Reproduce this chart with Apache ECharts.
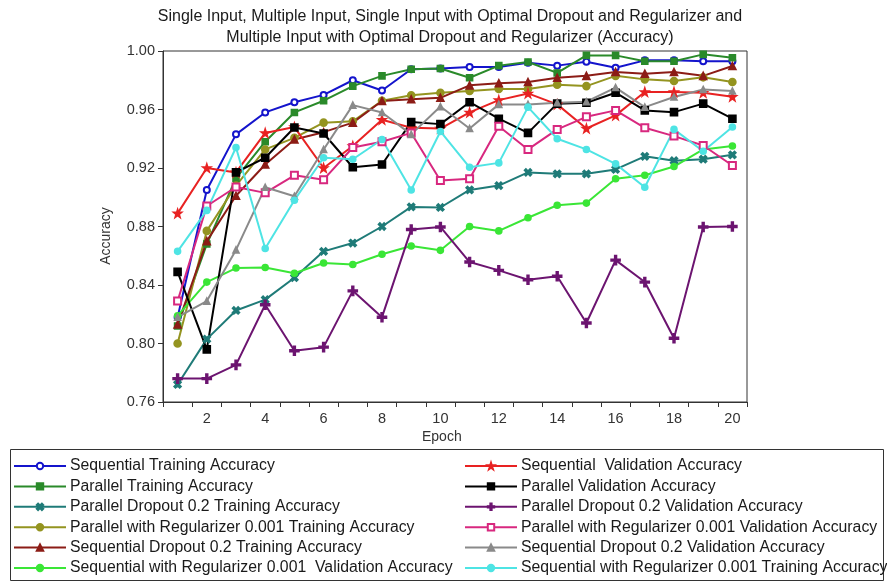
<!DOCTYPE html>
<html>
<head>
<meta charset="utf-8">
<script src="https://cdn.jsdelivr.net/npm/echarts@6/dist/echarts.min.js"></script>
<style>
  html, body { margin: 0; padding: 0; background: #fff; }
  #chart { width: 887px; height: 582px; }
</style>
</head>
<body>
<div id="chart"></div>
<script>
// Epochs on the x axis
const epochs = [1, 2, 3, 4, 5, 6, 7, 8, 9, 10, 11, 12, 13, 14, 15, 16, 17, 18, 19, 20];
const yTicks = { min: 0.76, max: 1.00, step: 0.04 };

// Accuracy per epoch for each model run
const seqTrain     = [0.818, 0.905, 0.943, 0.958, 0.965, 0.970, 0.980, 0.973, 0.9875, 0.988, 0.989, 0.989, 0.992, 0.990, 0.9927, 0.9886, 0.9936, 0.9936, 0.993, 0.993];
const seqVal       = [0.889, 0.920, 0.917, 0.944, 0.948, 0.920, 0.935, 0.953, 0.9475, 0.947, 0.958, 0.9664, 0.971, 0.9635, 0.947, 0.956, 0.972, 0.972, 0.9715, 0.9687];
const parTrain     = [0.812, 0.868, 0.913, 0.938, 0.958, 0.966, 0.976, 0.983, 0.9875, 0.988, 0.9817, 0.990, 0.9925, 0.985, 0.997, 0.997, 0.993, 0.993, 0.9977, 0.9954];
const parVal       = [0.849, 0.796, 0.917, 0.927, 0.9477, 0.9436, 0.9205, 0.9224, 0.9514, 0.950, 0.965, 0.9537, 0.944, 0.964, 0.9646, 0.9715, 0.9594, 0.9582, 0.964, 0.9537];
const parDropTrain = [0.772, 0.803, 0.8226, 0.830, 0.845, 0.863, 0.8687, 0.880, 0.8934, 0.893, 0.905, 0.908, 0.917, 0.916, 0.916, 0.919, 0.928, 0.925, 0.926, 0.929];
const parDropVal   = [0.776, 0.776, 0.7854, 0.8265, 0.795, 0.7975, 0.836, 0.818, 0.878, 0.8797, 0.8557, 0.850, 0.8436, 0.846, 0.814, 0.857, 0.842, 0.8036, 0.8797, 0.880];
const parRegTrain  = [0.800, 0.877, 0.908, 0.9327, 0.9406, 0.951, 0.952, 0.966, 0.9697, 0.9715, 0.9726, 0.974, 0.974, 0.977, 0.976, 0.983, 0.9806, 0.9795, 0.982, 0.9788];
const parRegVal    = [0.829, 0.894, 0.907, 0.903, 0.915, 0.912, 0.934, 0.938, 0.944, 0.9114, 0.9126, 0.9486, 0.9327, 0.9464, 0.955, 0.9594, 0.9475, 0.9418, 0.9354, 0.9217];
const seqDropTrain = [0.813, 0.870, 0.901, 0.9224, 0.9395, 0.9445, 0.951, 0.9658, 0.967, 0.968, 0.9765, 0.978, 0.9788, 0.9817, 0.983, 0.9856, 0.9845, 0.9856, 0.983, 0.9897];
const seqDropVal   = [0.818, 0.829, 0.864, 0.9068, 0.9007, 0.9327, 0.963, 0.958, 0.943, 0.962, 0.947, 0.9635, 0.9635, 0.9646, 0.9653, 0.975, 0.9616, 0.9685, 0.9737, 0.9726];
const seqRegVal    = [0.819, 0.842, 0.8516, 0.852, 0.848, 0.855, 0.854, 0.861, 0.8667, 0.8637, 0.880, 0.877, 0.886, 0.8945, 0.896, 0.9126, 0.915, 0.921, 0.9327, 0.935];
const seqRegTrain  = [0.863, 0.891, 0.934, 0.865, 0.898, 0.927, 0.926, 0.9395, 0.905, 0.945, 0.9205, 0.9235, 0.9616, 0.940, 0.9327, 0.9228, 0.9068, 0.9464, 0.9315, 0.948];

// Marker shapes
const CROSS = 'path://M0,2 L2,0 L5,3 L8,0 L10,2 L7,5 L10,8 L8,10 L5,7 L2,10 L0,8 L3,5 Z';
const PLUS  = 'path://M4,0 H6 V4 H10 V6 H6 V10 H4 V6 H0 V4 H4 Z';
const STAR  = 'path://M5,0 L6.2,3.6 L10,3.6 L7,5.9 L8.1,9.5 L5,7.3 L1.9,9.5 L3,5.9 L0,3.6 L3.8,3.6 Z';

const runs = [
  { name: 'Sequential Training Accuracy', data: seqTrain, color: '#1414cc', symbol: 'emptyCircle', size: 6 },
  { name: 'Parallel Training Accuracy', data: parTrain, color: '#2a8a2a', symbol: 'rect', size: 6 },
  { name: 'Parallel Dropout 0.2 Training Accuracy', data: parDropTrain, color: '#1f7b78', symbol: CROSS, size: 7 },
  { name: 'Parallel with Regularizer 0.001 Training Accuracy', data: parRegTrain, color: '#949420', symbol: 'circle', size: 7 },
  { name: 'Sequential Dropout 0.2 Training Accuracy', data: seqDropTrain, color: '#8c1c16', symbol: 'triangle', size: 7 },
  { name: 'Sequential with Regularizer 0.001  Validation Accuracy', data: seqRegVal, color: '#3ae636', symbol: 'circle', size: 6 },
  { name: 'Sequential  Validation Accuracy', data: seqVal, color: '#e82222', symbol: STAR, size: 8 },
  { name: 'Parallel Validation Accuracy', data: parVal, color: '#000000', symbol: 'rect', size: 7 },
  { name: 'Parallel Dropout 0.2 Validation Accuracy', data: parDropVal, color: '#6c1470', symbol: PLUS, size: 9 },
  { name: 'Parallel with Regularizer 0.001 Validation Accuracy', data: parRegVal, color: '#d8287f', symbol: 'emptyRect', size: 7 },
  { name: 'Sequential Dropout 0.2 Validation Accuracy', data: seqDropVal, color: '#8a8a8a', symbol: 'triangle', size: 6 },
  { name: 'Sequential with Regularizer 0.001 Training Accuracy', data: seqRegTrain, color: '#4ee4e4', symbol: 'circle', size: 6 }
];

const FONT = "'Liberation Sans', Arial, sans-serif";
const chart = echarts.init(document.getElementById('chart'), null, { renderer: 'canvas' });

// One legend entry per component so every row sits on a fixed pitch
const ROW_TOP = 458, ROW_STEP = 20.4;
const legends = runs.map((r, i) => ({
  left: i < 6 ? 13 : 464,
  top: ROW_TOP + (i % 6) * ROW_STEP,
  padding: 0,
  itemWidth: 52,
  itemHeight: 8,
  selectedMode: false,
  data: [r.name],
  textStyle: { fontFamily: FONT, fontSize: 15.8, color: '#1a1a1a', padding: [0, 0, 0, -1] }
}));

chart.setOption({
  animation: false,
  backgroundColor: '#ffffff',
  grid: { left: 163, right: 140, top: 51, bottom: 180, show: true, borderColor: '#333', borderWidth: 1, outerBoundsMode: 'none' },
  graphic: [
    {
      type: 'text', x: 450, y: 6,
      style: {
        text: 'Single Input, Multiple Input, Single Input with Optimal Dropout and Regularizer and\nMultiple Input with Optimal Dropout and Regularizer (Accuracy)',
        font: '16px ' + FONT, fill: '#1a1a1a', textAlign: 'center', textVerticalAlign: 'top', lineHeight: 21
      }
    },
    {
      type: 'text', x: 422, y: 430,
      style: { text: 'Epoch', font: '14px ' + FONT, fill: '#333' }
    },
    {
      type: 'text', x: 106, y: 236, rotation: Math.PI / 2,
      style: { text: 'Accuracy', font: '14px ' + FONT, fill: '#333', textAlign: 'center', textVerticalAlign: 'middle' }
    },
    {
      type: 'rect', shape: { x: 10.5, y: 449.5, width: 873, height: 131 },
      style: { fill: 'none', stroke: '#333', lineWidth: 1 }, z: -1
    }
  ],
  legend: legends,
  xAxis: {
    type: 'category',
    data: epochs,
    boundaryGap: true,
    axisLine: { lineStyle: { color: '#333' } },
    axisTick: { show: true, interval: 0, length: 5, lineStyle: { color: '#333' } },
    axisLabel: {
      interval: (i) => i % 2 === 1,
      fontFamily: FONT, fontSize: 14.5, color: '#333', margin: 9
    },
    splitLine: { show: false }
  },
  yAxis: {
    type: 'value',
    min: yTicks.min, max: yTicks.max, interval: yTicks.step,
    axisLine: { show: true, lineStyle: { color: '#333' } },
    axisTick: { show: true, length: 5, lineStyle: { color: '#333' } },
    axisLabel: { formatter: (v) => v.toFixed(2), fontFamily: FONT, fontSize: 14.5, color: '#333', margin: 8 },
    splitLine: { show: false }
  },
  series: runs.map(r => ({
    name: r.name,
    type: 'line',
    data: r.data,
    symbol: r.symbol,
    symbolSize: r.size,
    showAllSymbol: true,
    color: r.color,
    lineStyle: { width: 2, color: r.color },
    itemStyle: { color: r.color, borderColor: r.color, borderWidth: 1.6 },
    emphasis: { disabled: true }
  }))
});
</script>
</body>
</html>
